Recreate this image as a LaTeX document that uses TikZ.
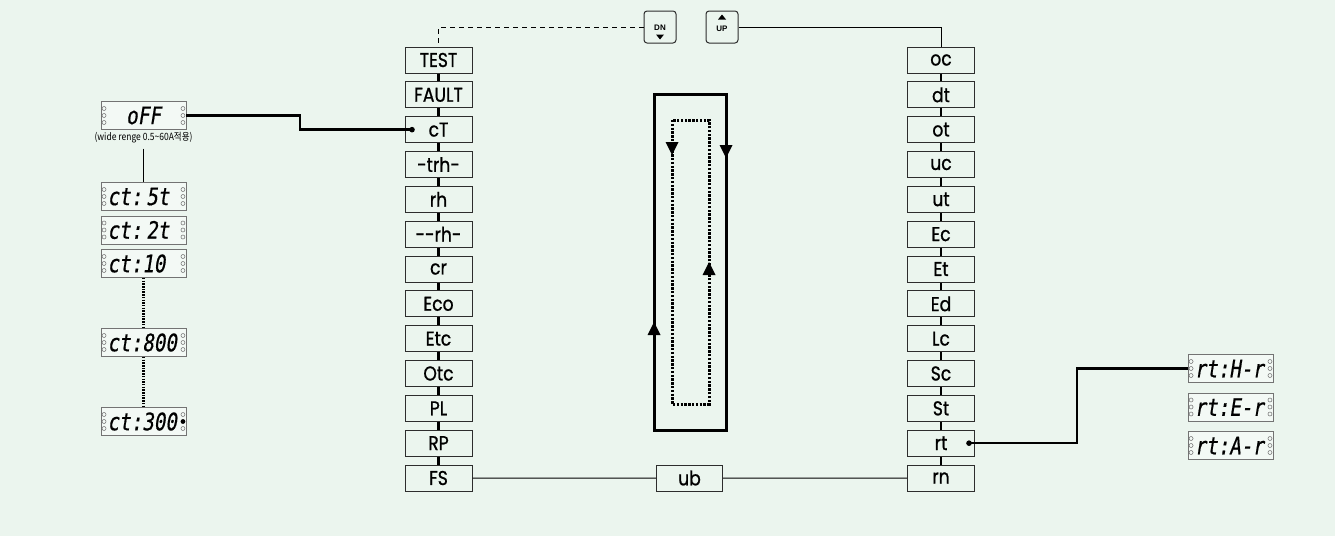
\documentclass[tikz,border=0pt]{standalone}
\usepackage{fontspec}
\usetikzlibrary{arrows.meta,calc}
\newfontfamily\boxfont[FakeStretch=0.86,FakeBold=0.9]{Poppins}
\newfontfamily\lcdfont[FakeStretch=0.8,FakeSlant=0.16,FakeBold=0.6]{DejaVu Sans Mono}
\newfontfamily\krfont[FakeStretch=0.85]{Noto Sans CJK KR}
\newfontfamily\btnfont{Liberation Sans}
\definecolor{bg}{RGB}{235,245,238}
\definecolor{lcdfill}{RGB}{243,249,245}
\definecolor{boxline}{RGB}{45,45,45}
\definecolor{lcdline}{RGB}{115,115,115}
\newcommand\mkledsL[1]{\foreach \dy in {7,0,-7}{\draw[led] ([xshift=3.5pt,yshift=\dy pt]#1.west) circle (2pt);}}
\newcommand\mkledsR[1]{\foreach \dy in {7,0,-7}{\draw[led] ([xshift=-3.5pt,yshift=\dy pt]#1.east) circle (2pt);}}
\newcommand\arrdown[2]{\fill (#1-6.5,#2-13) -- (#1+6.5,#2-13) -- (#1,#2) -- cycle;}
\newcommand\arrup[2]{\fill (#1-6.5,#2+13) -- (#1+6.5,#2+13) -- (#1,#2) -- cycle;}
\begin{document}
\begin{tikzpicture}[x=1pt,y=-1pt,
  mbox/.style={draw=boxline,line width=1pt,fill=bg,minimum width=67pt,minimum height=26pt,inner sep=0pt,
    font=\boxfont\fontsize{20}{20}\selectfont},
  lcd/.style={draw=lcdline,line width=0.9pt,fill=lcdfill,minimum width=85pt,minimum height=28pt,inner sep=0pt,
    text width=72pt,align=left,font=\lcdfont\fontsize{24}{24}\selectfont},
  lcdc/.style={lcd,align=center},
  led/.style={draw=lcdline,line width=0.55pt},
  tick/.style={line width=2.3pt,black},
  thinline/.style={line width=1pt,black},
  dashline/.style={line width=1pt,black,dash pattern=on 5pt off 4pt},
  conn/.style={line width=2.6pt,black},
  loopline/.style={line width=3pt,black},
  dotline/.style={line width=3pt,black,dash pattern=on 2.4pt off 1.4pt},
  vdots/.style={line width=2.2pt,black,dash pattern=on 1.5pt off 1.2pt},
  btn/.style={draw=boxline,line width=1pt,fill=bg,rounded corners=3pt,minimum width=32pt,minimum height=32pt,inner sep=0pt},
  btntxt/.style={inner sep=0pt,font=\btnfont\bfseries\fontsize{8}{8}\selectfont}
]
\fill[bg] (0,0) rectangle (1335,536);
\useasboundingbox (0,0) rectangle (1335,536);

% columns
\foreach \t [count=\i from 0] in {TEST,FAULT,cT,-trh-,rh,{-}{-}rh{-},cr,Eco,Etc,Otc,PL,RP,FS}
  \node[mbox] (L\i) at (438.5,{60+34.833*\i}) {\t};
\foreach \t [count=\i from 0] in {oc,dt,ot,uc,ut,Ec,Et,Ed,Lc,Sc,St,rt,rn}
  \node[mbox] (R\i) at (941,{60+34.833*\i}) {\t};
\foreach \i [evaluate=\i as \j using int(\i+1)] in {0,...,11}{
  \draw[tick] (L\i.south) -- (L\j.north);
  \draw[tick] (R\i.south) -- (R\j.north);
}
\node[mbox,minimum width=66pt] (ub) at (689.5,478) {ub};
\draw[thinline] (L12.east) -- (ub.west);
\draw[thinline] (ub.east) -- (R12.west);

% buttons
\node[btn] (dn) at (660,27) {};
\node[btntxt] (dnt) at (660,27.5) {DN};
\fill ([xshift=-4pt,yshift=-7.5pt]dn.center) -- ++(8pt,0) -- ++(-4pt,-5pt) -- cycle;
\node[btn] (up) at (722,27) {};
\node[btntxt] (upt) at (722,28.5) {UP};
\fill ([xshift=-4pt,yshift=7.5pt]up.center) -- ++(8pt,0) -- ++(-4pt,5pt) -- cycle;
\draw[dashline] (dn.west) -| (L0.north);
\draw[thinline] (up.east) -| (R0.north);

% loop
\draw[loopline] (654,94) rectangle (726,430);
\draw[dotline] (672,120) rectangle (709,404);
\arrdown{726}{158}
\arrup{654}{322}
\arrdown{672}{155}
\arrup{709}{262}

% left displays
\node[lcdc] (off) at (143.5,115.5) {oFF};
\node[inner sep=0pt,font=\krfont\fontsize{10}{10}\selectfont] (note) at (143.5,138) {(wide renge 0.5\symbol{126}60A적용)};
\node[lcd] (ct5) at (143.5,196.5) {ct:\,5t};
\node[lcd] (ct2) at (143.5,230) {ct:\,2t};
\node[lcd] (ct10) at (143.5,263.5) {ct:10};
\node[lcd] (ct800) at (143.5,342.5) {ct:800};
\node[lcd] (ct300) at (143.5,421.5) {ct:300};
\foreach \n in {off,ct5,ct2,ct10,ct800,ct300}{\mkledsL{\n}}
\foreach \n in {off,ct5,ct2,ct10,ct800}{\mkledsR{\n}}
\draw[led] ([xshift=-3.5pt,yshift=7pt]ct300.east) circle (2pt);
\draw[led] ([xshift=-3.5pt,yshift=-7pt]ct300.east) circle (2pt);
\fill ([xshift=-3.5pt]ct300.east) circle (2.4pt);
\draw[thinline] ([yshift=-5pt]note.south) -- (ct5.north);
\draw[vdots] (ct10.south) -- (ct800.north);
\draw[vdots] (ct800.south) -- (ct300.north);

\coordinate (cdot) at (412,129.67);
\draw[conn] (off.east) -| (300,122) |- (cdot);
\fill (cdot) circle (2.8pt);

% right displays
\node[lcd] (rtH) at (1230.5,368.5) {rt:H-r};
\node[lcd] (rtE) at (1230.5,407) {rt:E-r};
\node[lcd] (rtA) at (1230.5,445.5) {rt:A-r};
\foreach \n in {rtH,rtE,rtA}{\mkledsL{\n}\mkledsR{\n}}
\coordinate (rdot) at (969,443.17);
\draw[conn] (rdot) -| (1077,400) |- (rtH.west);
\fill (rdot) circle (2.8pt);
\end{tikzpicture}
\end{document}
